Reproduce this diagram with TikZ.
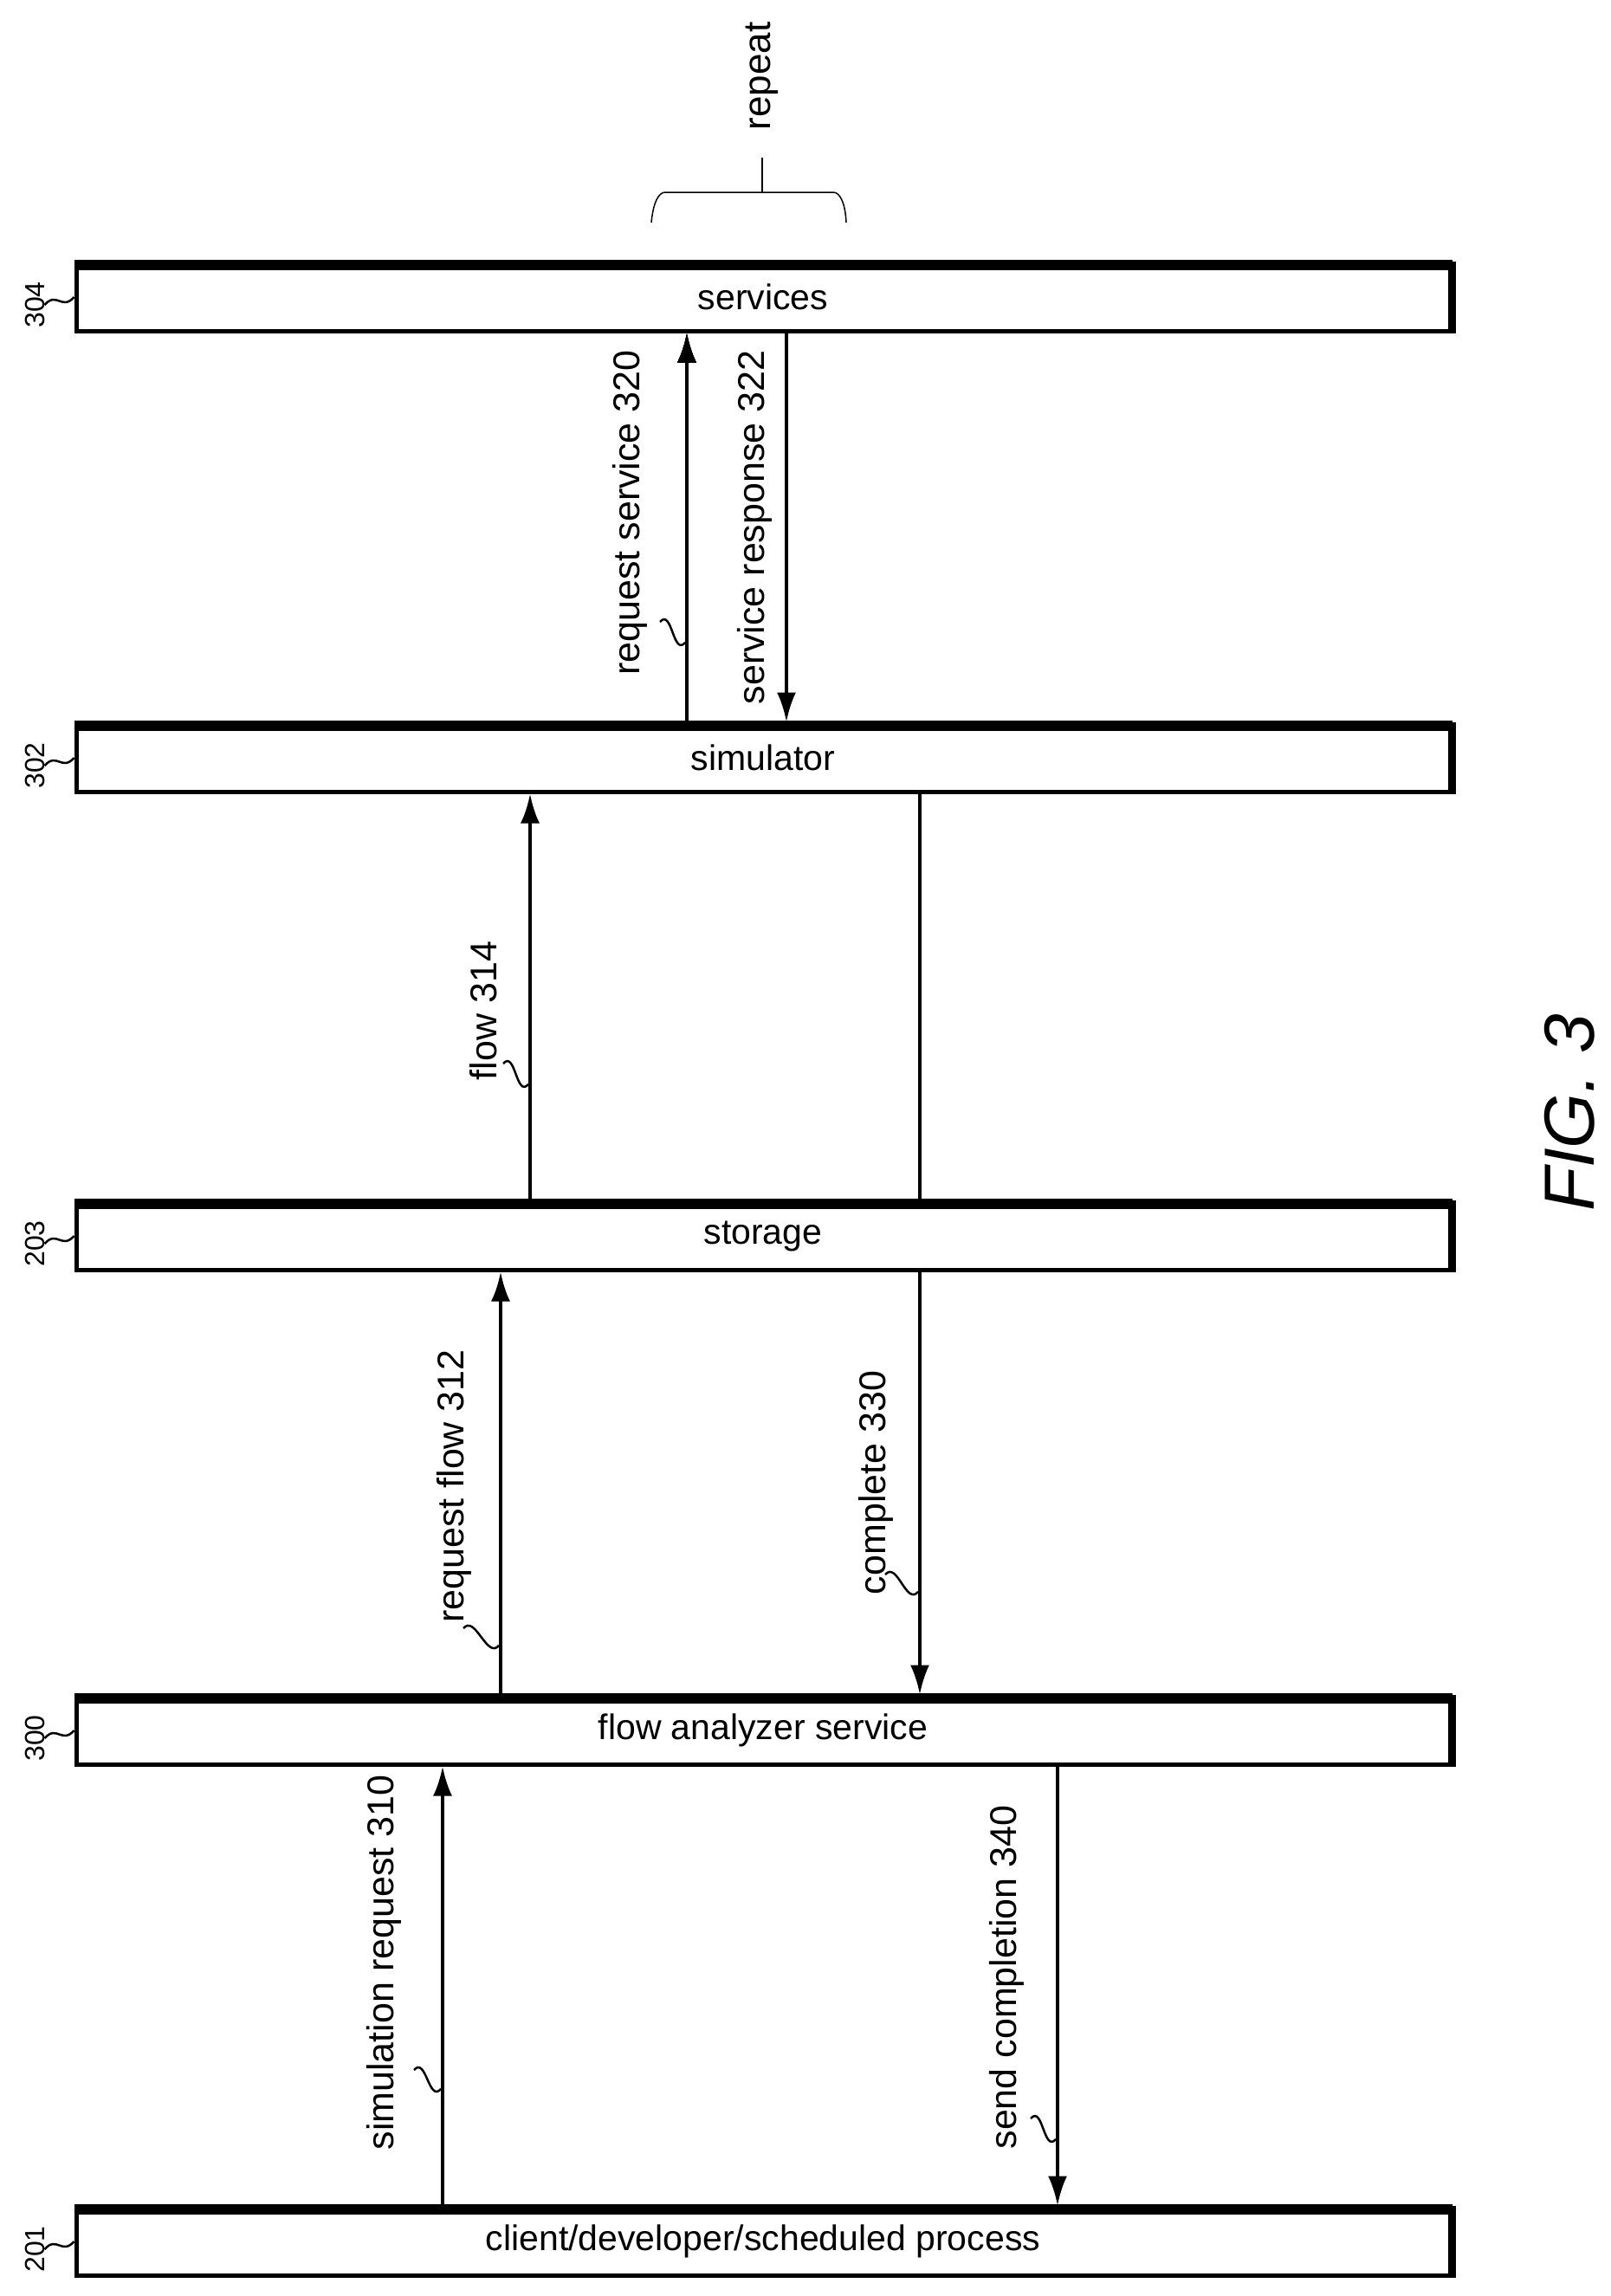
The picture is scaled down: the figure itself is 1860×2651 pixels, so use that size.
\documentclass[tikz,border=0pt]{standalone}
\usepackage{fontspec}
\setmainfont{Liberation Sans}
\usetikzlibrary{arrows.meta}
\tikzstyle{lane}=[rectangle,draw=black,line width=5pt,minimum width=1586pt,minimum height=78pt,inner sep=0pt,font=\fontsize{41}{46}\selectfont]
\tikzstyle{lbl}=[rotate=90,inner sep=0pt,font=\fontsize{43}{48}\selectfont]
\tikzstyle{refn}=[rotate=90,inner sep=0pt,font=\fontsize{32}{36}\selectfont]
\tikzstyle{msg}=[-{Latex[length=34pt,width=22pt]},draw=black,line width=4pt]
\tikzstyle{plain}=[-,draw=black,line width=4pt]
\tikzstyle{sq}=[-,draw=black,line width=2.5pt]
\newcommand{\squig}[2]{\draw [style=sq] #1 .. controls +(14,-16) and +(-14,16) .. #2;}
\begin{document}
\begin{tikzpicture}[x=1pt,y=-1pt]
	\useasboundingbox (0,0) rectangle (1860,2651);
	% lanes
	\node [style=lane] (svc) at (881,343) {services};
	\node [style=lane] (sim) at (881,875) {simulator};
	\node [style=lane] (sto) at (881,1427) {storage};
	\node [style=lane] (fas) at (881,1998) {flow analyzer service};
	\node [style=lane] (cli) at (881,2588) {client/developer/scheduled process};
	\foreach \n in {svc,sim,sto,fas,cli} {
		\draw [line width=12pt] ([yshift=-4pt]\n.north west) -- ([yshift=-4pt]\n.north east);
		\draw [line width=8pt] (\n.north east) -- (\n.south east);
	}
	% reference numbers
	\node [style=refn] (n304) at (40,352) {304};
	\node [style=refn] (n302) at (40,884) {302};
	\node [style=refn] (n203) at (40,1436) {203};
	\node [style=refn] (n300) at (40,2007) {300};
	\node [style=refn] (n201) at (40,2597) {201};
	\foreach \n/\b in {n304/svc,n302/sim,n203/sto,n300/fas,n201/cli}
		\squig{(\n.south)}{(\b.west)}
	% messages
	\draw [style=msg] (sim.north -| 793,0) to (svc.south -| 793,0);
	\draw [style=msg] (svc.south -| 908,0) to (sim.north -| 908,0);
	\draw [style=msg] (sto.north -| 612,0) to (sim.south -| 612,0);
	\draw [style=plain] (sim.south -| 1062,0) to (sto.north -| 1062,0);
	\draw [style=msg] (fas.north -| 578,0) to (sto.south -| 578,0);
	\draw [style=msg] (sto.south -| 1062,0) to (fas.north -| 1062,0);
	\draw [style=msg] (cli.north -| 511,0) to (fas.south -| 511,0);
	\draw [style=msg] (fas.south -| 1221,0) to (cli.north -| 1221,0);
	% labels
	\node [style=lbl] (l320) at (727,592) {request service 320};
	\node [style=lbl] (l322) at (871,609) {service response 322};
	\node [style=lbl] (l314) at (558,1167) {flow 314};
	\node [style=lbl] (l312) at (524,1716) {request flow 312};
	\node [style=lbl] (l330) at (1011,1712) {complete 330};
	\node [style=lbl] (l310) at (443,2266) {simulation request 310};
	\node [style=lbl] (l340) at (1162,2283) {send completion 340};
	\squig{(762,718)}{(791,742)}
	\squig{(581,1228)}{(610,1252)}
	\squig{(535,1880)}{(576,1900)}
	\squig{(1022,1818)}{(1060,1838)}
	\squig{(478,2390)}{(509,2412)}
	\squig{(1190,2446)}{(1219,2470)}
	% repeat brace
	\node [style=lbl,font=\fontsize{44}{48}\selectfont] (rep) at (880,88) {repeat};
	\coordinate (bt) at (880,222);
	\draw [line width=1.5pt] (bt) -- (880,182);
	\draw [line width=1.5pt] (752,257) .. controls (754,235) and (760,222) .. (768,222)
		-- (962,222) .. controls (970,222) and (976,235) .. (977,257);
	% figure
	\node [rotate=90,font=\fontsize{82}{90}\selectfont\itshape] (fig) at (1812,1285) {FIG. 3};
\end{tikzpicture}
\end{document}
